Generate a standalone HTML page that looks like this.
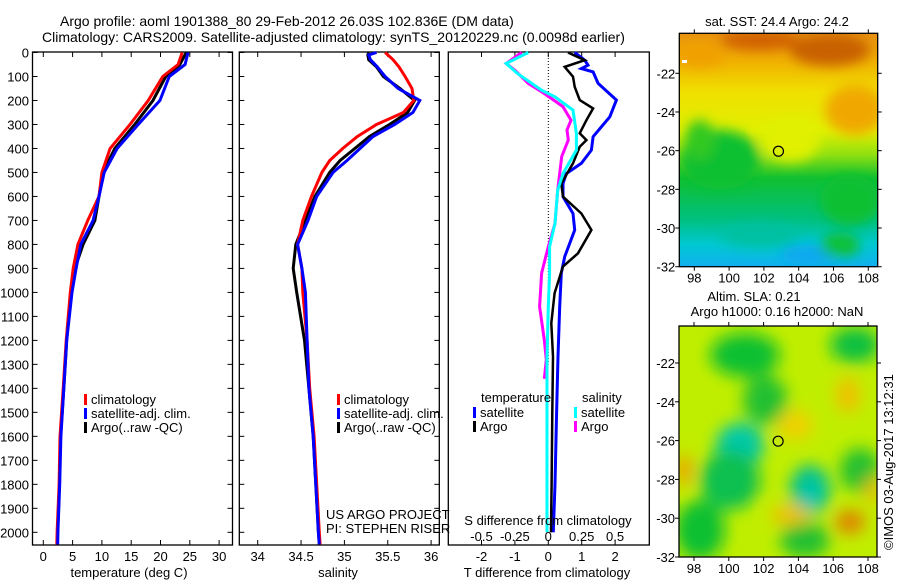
<!DOCTYPE html>
<html><head><meta charset="utf-8"><style>
body{margin:0;background:#fff}
svg{display:block;font-family:"Liberation Sans",sans-serif}
text{font-size:13px;fill:#000}
</style></head><body>
<svg id="c" width="900" height="580" viewBox="0 0 900 580">
<defs>
<filter id="b1" x="-50%" y="-50%" width="200%" height="200%"><feGaussianBlur stdDeviation="6"/></filter>
<filter id="b2" x="-50%" y="-50%" width="200%" height="200%"><feGaussianBlur stdDeviation="8"/></filter>
<linearGradient id="sst" x1="0" y1="0" x2="0" y2="1">
<stop offset="0" stop-color="#e89010"/><stop offset="0.12" stop-color="#f0b000"/>
<stop offset="0.25" stop-color="#f0e000"/><stop offset="0.42" stop-color="#e0f000"/>
<stop offset="0.52" stop-color="#90e010"/><stop offset="0.62" stop-color="#10c030"/>
<stop offset="0.8" stop-color="#00c080"/><stop offset="0.9" stop-color="#00c8d0"/>
<stop offset="1" stop-color="#10b0f0"/>
</linearGradient>
<clipPath id="m1c"><rect x="679" y="33" width="199" height="234"/></clipPath>
<clipPath id="m2c"><rect x="679" y="326" width="198" height="231"/></clipPath>
</defs>
<g>
<text x="60" y="26" style="font-size:14px">Argo profile: aoml 1901388_80 29-Feb-2012 26.03S 102.836E (DM data)</text>
<text x="42" y="42" style="font-size:14px">Climatology: CARS2009. Satellite-adjusted climatology: synTS_20120229.nc (0.0098d earlier)</text>
</g>
<g id="p1"></g>
<g id="p2"></g>
<g id="p3"></g>
<g id="m1"></g>
<g id="m2"></g>
<text transform="translate(893,550) rotate(-90)">©IMOS 03-Aug-2017 13:12:31</text>
</svg>
<script>
// ---- data ----
const tDepth=[0,50,100,200,300,400,500,600,700,800,900,1000,1200,1400,1600,1800,2000,2050];
const tClim=[23.7,23.0,20.4,17.9,14.8,11.4,10.0,9.5,7.6,5.9,5.1,4.6,3.9,3.4,2.85,2.7,2.35,2.3];
const tArgo=[24.4,23.3,20.9,18.7,15.6,12.2,10.2,9.5,8.8,6.8,5.4,4.7,4.0,3.5,2.95,2.75,2.45,2.4];
const tSat=[24.7,24.2,21.5,19.9,16.2,12.6,10.4,9.5,8.5,6.4,5.6,4.9,4.0,3.5,3.0,2.8,2.5,2.45];
const sDepth=[0,10,30,60,100,150,200,250,300,350,400,450,500,600,700,800,900,1000,1200,1400,1600,1800,2000,2050];
const sSat=[35.37,35.28,35.30,35.38,35.47,35.62,35.87,35.79,35.58,35.33,35.18,35.03,34.87,34.68,34.58,34.46,34.51,34.55,34.57,34.59,34.64,34.67,34.70,34.71];
const sClim=[35.47,35.50,35.56,35.63,35.70,35.78,35.80,35.68,35.37,35.15,34.98,34.83,34.74,34.62,34.52,34.46,34.51,34.52,34.57,34.60,34.65,34.68,34.71,34.72];
const sArgo=[35.28,35.27,35.28,35.37,35.45,35.64,35.81,35.73,35.52,35.29,35.12,34.95,34.83,34.66,34.55,34.44,34.41,34.45,34.54,34.59,34.64,34.67,34.70,34.71];
const dtSatDepth=[0,32,53,67,81,129,198,268,351,407,462,505,546,601,671,740,851,920,1059,1267,1500,1800,2000];
const dtSat=[0.79,1.09,1.19,0.99,1.34,1.49,2.04,1.84,1.34,1.29,0.99,0.54,0.44,0.44,0.74,0.79,0.49,0.39,0.34,0.29,0.25,0.2,0.15];
const dtArgoDepth=[0,32,60,101,143,198,233,282,337,365,393,462,546,601,671,740,837,892,1003,1128,1267,1500,1800,2000];
const dtArgo=[0.59,1.09,0.49,0.74,0.79,0.94,1.34,1.14,0.94,1.14,0.94,0.74,0.39,0.44,0.99,1.29,0.89,0.44,0.19,0.09,0.14,0.12,0.1,0.08];
const dsArgoDepth=[0,46,74,129,171,226,282,323,365,434,574,712,809,920,1059,1198,1281,1360];
const dsArgo=[-0.2,-0.315,-0.25,-0.15,-0.03,0.11,0.17,0.14,0.15,0.1,0.07,0.05,0,-0.05,-0.065,-0.03,-0.015,-0.03];
const dsSatDepth=[0,46,88,157,185,240,337,407,505,574,712,809,920,1059,1267,1600,2000];
const dsSat=[-0.15,-0.315,-0.23,-0.05,0.05,0.185,0.21,0.21,0.11,0.07,0.05,0.01,0.01,0,-0.01,-0.01,-0.01];
const depthTicks=[0,100,200,300,400,500,600,700,800,900,1000,1100,1200,1300,1400,1500,1600,1700,1800,1900,2000];
const tTicks=[0,5,10,15,20,25,30];
const sTicks=[34,34.5,35,35.5,36];
const dtTicks=[-2,-1,0,1,2];
const dsTicks=[-0.5,-0.25,0,0.25,0.5];
const dsTickLabels=["-0.5","-0.25","0","0.25","0.5"];
const latTicks=[-22,-24,-26,-28,-30,-32];
const lonTicks=[98,100,102,104,106,108];
const argoLon=102.836, argoLat=-26.03;

// ---- axes ----
const NS='http://www.w3.org/2000/svg';
const yD=d=>52.5+d*0.2399;
const xT=v=>43.3+v*5.86;
const xS=v=>257.7+(v-34)*86.7;
const xDT=v=>548.3+v*33.4;
const xDS=v=>548.3+v*4*33.4;
function mk(tag,attrs,parent){const e=document.createElementNS(NS,tag);for(const k in attrs)e.setAttribute(k,attrs[k]);parent.appendChild(e);return e;}
function txt(parent,x,y,s,anchor){const t=mk('text',{x:x,y:y,'text-anchor':anchor||'start'},parent);t.textContent=s;return t;}
function line(parent,xs,ds,fx,color,w,name){
  let p='';for(let i=0;i<xs.length;i++)p+=(i?'L':'M')+fx(xs[i]).toFixed(1)+' '+yD(ds[i]).toFixed(1);
  const e=mk('path',{d:p,fill:'none',stroke:color,'stroke-width':w,'stroke-linejoin':'miter'},parent);
  
  
}
function frame(g,x0,x1){
  const r=mk('rect',{x:x0,y:52,width:x1-x0,height:493,fill:'none',stroke:'#000','stroke-width':1.3},g);
  
  
  depthTicks.forEach(d=>{mk('line',{x1:x0,x2:x0+5,y1:yD(d),y2:yD(d),stroke:'#000'},g);mk('line',{x1:x1-5,x2:x1,y1:yD(d),y2:yD(d),stroke:'#000'},g);});
}
function xticks(g,ticks,fx,labels,ly){
  ticks.forEach((v,i)=>{const x=fx(v);mk('line',{x1:x,x2:x,y1:52,y2:57,stroke:'#000'},g);mk('line',{x1:x,x2:x,y1:540,y2:545,stroke:'#000'},g);
    if(ly){const t=txt(g,x,ly,labels[i],'middle');}});
}
function legendEntry(g,x,y,color,label){
  mk('rect',{x:x,y:y-10,width:3,height:11,fill:color},g);
  const t=txt(g,x+7,y,label);
  
  
}
// panel 1
const p1=document.getElementById('p1');
frame(p1,32.5,232.5);
depthTicks.forEach(d=>{const t=txt(p1,29,yD(d)+5,String(d),'end');});
xticks(p1,tTicks,xT,tTicks.map(String),561);
txt(p1,129,577,'temperature (deg C)','middle');
line(p1,tArgo,tDepth,xT,'#000',3,'temp-argo-line');
line(p1,tClim,tDepth,xT,'#f00',3,'temp-climatology-line');
line(p1,tSat,tDepth,xT,'#00f',3,'temp-satellite-line');
legendEntry(p1,84,404,'#f00','climatology');
legendEntry(p1,84,418,'#00f','satellite-adj. clim.');
legendEntry(p1,84,432,'#000','Argo(..raw -QC)');
// panel 2
const p2=document.getElementById('p2');
frame(p2,239.3,439.3);
xticks(p2,sTicks,xS,sTicks.map(String),561);
txt(p2,338,577,'salinity','middle');
line(p2,sArgo,sDepth,xS,'#000',3,'sal-argo-line');
line(p2,sClim,sDepth,xS,'#f00',3,'sal-climatology-line');
line(p2,sSat,sDepth,xS,'#00f',3,'sal-satellite-line');
legendEntry(p2,337,404,'#f00','climatology');
legendEntry(p2,337,418,'#00f','satellite-adj. clim.');
legendEntry(p2,337,432,'#000','Argo(..raw -QC)');
txt(p2,326,519,'US ARGO PROJECT');
txt(p2,326,533,'PI: STEPHEN RISER');
// panel 3
const p3=document.getElementById('p3');
mk('rect',{x:448.3,y:52,width:201,height:493,fill:'none',stroke:'#000','stroke-width':1.3},p3);
xticks(p3,dtTicks,xDT,dtTicks.map(String),561);
mk('line',{x1:548.3,x2:548.3,y1:52,y2:yD(1300),stroke:'#000','stroke-dasharray':'1 2'},p3);
line(p3,dtSat,dtSatDepth,xDT,'#00f',3,'tdiff-satellite-line');
line(p3,dtArgo,dtArgoDepth,xDT,'#000',2.5,'tdiff-argo-line');
line(p3,dsArgo,dsArgoDepth,xDS,'#f0f',3,'sdiff-argo-line');
line(p3,dsSat,dsSatDepth,xDS,'#0ff',3,'sdiff-satellite-line');
dsTicks.forEach((v,i)=>{const t=txt(p3,xDS(v),541,dsTickLabels[i],'middle');});
txt(p3,548,525,'S difference from climatology','middle');
txt(p3,547,577,'T difference from climatology','middle');
txt(p3,481,402,'temperature');
txt(p3,582,402,'salinity');
legendEntry(p3,473,417,'#00f','satellite');
legendEntry(p3,473,431,'#000','Argo');
legendEntry(p3,574,417,'#0ff','satellite');
legendEntry(p3,574,431,'#f0f','Argo');
// maps
function mapAxes(g,x0,x1,y0,y1,lonA,lonB,latA,latB){
  const X=lon=>lonA[0]+(lon-lonA[1])*(lonB[0]-lonA[0])/(lonB[1]-lonA[1]);
  const Y=lat=>latA[0]+(lat-latA[1])*(latB[0]-latA[0])/(latB[1]-latA[1]);
  mk('rect',{x:x0,y:y0,width:x1-x0,height:y1-y0,fill:'none',stroke:'#000','stroke-width':1.3},g);
  latTicks.forEach(l=>{const y=Y(l);mk('line',{x1:x0-4,x2:x0,y1:y,y2:y,stroke:'#000'},g);mk('line',{x1:x1,x2:x1+4,y1:y,y2:y,stroke:'#000'},g);
    const t=txt(g,x0-4,y+5,String(l),'end');});
  lonTicks.forEach(l=>{const x=X(l);mk('line',{x1:x,x2:x,y1:y0-4,y2:y0,stroke:'#000'},g);mk('line',{x1:x,x2:x,y1:y1,y2:y1+4,stroke:'#000'},g);
    const t=txt(g,x,y1+16,String(l),'middle');});
  const c=mk('circle',{cx:X(argoLon),cy:Y(argoLat),r:5,fill:'none',stroke:'#000','stroke-width':1.2},g);
  
  
}
const m1=document.getElementById('m1');
const g1=mk('g',{'clip-path':'url(#m1c)'},m1);
mk('rect',{x:679,y:33,width:199,height:234,fill:'url(#sst)'},g1);
const b1=mk('g',{filter:'url(#b1)'},g1);
[[760,40,40,10,'#d06000'],[830,50,40,16,'#c86000'],[700,55,25,12,'#f0a000'],[855,110,30,25,'#f0a800'],[720,160,40,30,'#10c030'],[700,140,15,20,'#30c820'],[790,140,30,22,'#e0f000'],[850,200,30,25,'#10c030'],[760,235,40,12,'#00c0a0'],[810,255,30,10,'#10a8f0'],[840,245,20,12,'#10c030']].forEach(a=>mk('ellipse',{cx:a[0],cy:a[1],rx:a[2],ry:a[3],fill:a[4]},b1));
mk('rect',{x:682,y:60,width:5,height:3,fill:'#fff'},m1);
mapAxes(m1,679.3,877.7,33.3,266.7,[694.3,98],[868.3,108],[73.3,-22],[266.7,-32]);
txt(m1,777,26,'sat. SST: 24.4 Argo: 24.2','middle');
const m2=document.getElementById('m2');
const g2=mk('g',{'clip-path':'url(#m2c)'},m2);
mk('rect',{x:679,y:326,width:198,height:231,fill:'#c0ee00'},g2);
const b2=mk('g',{filter:'url(#b2)'},g2);
[[745,355,35,22,'#10c030'],[855,345,25,18,'#10c040'],[700,530,25,30,'#10c030'],[765,400,22,25,'#20c030'],[805,540,25,18,'#20c030'],[740,445,24,22,'#00c8a8'],[730,480,30,30,'#10c050'],[810,490,20,25,'#00c090'],[812,495,10,15,'#00c8b0'],[860,470,20,22,'#20c030'],[795,425,18,15,'#f0d000'],[848,395,12,18,'#f0c000'],[684,470,8,16,'#f0a000'],[850,522,15,12,'#e08000'],[790,515,20,10,'#f0c000'],[872,490,6,14,'#f0b000']].forEach(a=>mk('ellipse',{cx:a[0],cy:a[1],rx:a[2],ry:a[3],fill:a[4]},b2));
mapAxes(m2,679,877,326,557,[694,98],[868,108],[363,-22],[557,-32]);
txt(m2,754,301,'Altim. SLA: 0.21','middle');
txt(m2,777,316,'Argo h1000: 0.16 h2000: NaN','middle');
</script>
</body></html>
